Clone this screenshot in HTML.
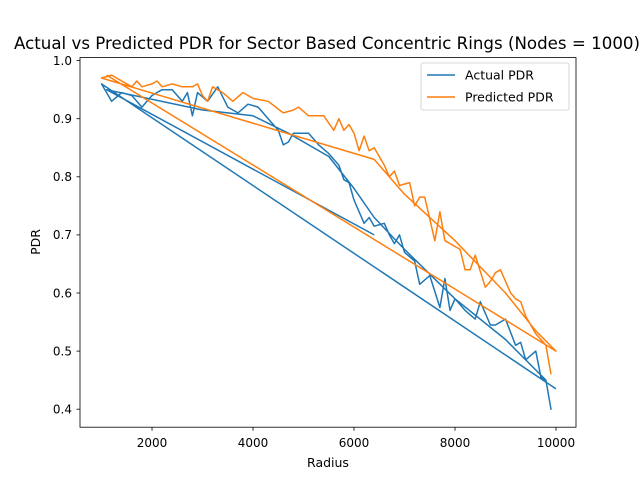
<!DOCTYPE html>
<html><head><meta charset="utf-8"><style>
body{margin:0;background:#fff}
svg{font-family:"DejaVu Sans","Liberation Sans",sans-serif}
</style></head><body>
<svg id="chart" width="640" height="480">
<rect width="640" height="480" fill="#fff"/>
<text x="327" y="49" font-size="16.5" text-anchor="middle" textLength="626" lengthAdjust="spacingAndGlyphs">Actual vs Predicted PDR for Sector Based Concentric Rings (Nodes = 1000)</text>
<g id="plot"></g>
<rect x="80" y="57.6" width="496" height="369.6" fill="none" stroke="#000" stroke-width="0.8"/>
<g id="xt"></g><g id="yt"></g>
<text x="328" y="467" font-size="12.5" text-anchor="middle">Radius</text>
<text transform="translate(40,242) rotate(-90)" font-size="12.5" text-anchor="middle">PDR</text>
<g>
<rect x="421" y="63" width="148" height="47" rx="2" fill="#fff" stroke="#ccc" stroke-width="0.8"/>
<line x1="427" y1="75" x2="455" y2="75" stroke="#1f77b4" stroke-width="1.5"/>
<text x="465" y="79.5" font-size="12.5">Actual PDR</text>
<line x1="427" y1="97" x2="455" y2="97" stroke="#ff7f0e" stroke-width="1.5"/>
<text x="465" y="101.5" font-size="12.5">Predicted PDR</text>
</g>
</svg>
<script>
const actualX=[6400,1100,3000,4000,4700,5500,6000,6400,7000,8000,9000,9800,9900,9800,9700,9600,9400,9300,9200,9000,8800,8700,8500,8400,8200,8000,7900,7800,7700,7500,7300,7200,7000,6900,6800,6700,6600,6400,6300,6200,6000,5900,5800,5700,5500,5300,5100,5000,4800,4700,4600,4500,4300,4100,3900,3700,3500,3300,3100,2900,2800,2700,2600,2400,2200,2000,1800,1600,1400,1200,1000,10000];
const actualY=[0.70,0.95,0.915,0.905,0.875,0.835,0.78,0.73,0.675,0.59,0.52,0.45,0.40,0.45,0.455,0.50,0.485,0.515,0.51,0.555,0.545,0.545,0.585,0.555,0.57,0.59,0.57,0.625,0.575,0.63,0.615,0.655,0.67,0.70,0.685,0.70,0.72,0.715,0.73,0.72,0.76,0.79,0.795,0.82,0.84,0.855,0.875,0.875,0.875,0.86,0.855,0.88,0.90,0.92,0.925,0.91,0.92,0.955,0.93,0.945,0.905,0.945,0.93,0.95,0.95,0.94,0.92,0.94,0.945,0.93,0.96,0.435];
const predX=[1100,10000,9600,9000,8000,7000,6600,6400,1000,1200,1400,1600,1700,1800,2000,2100,2200,2400,2600,2800,2900,3000,3100,3200,3400,3600,3800,4000,4300,4600,4800,4900,5100,5400,5600,5700,5800,5900,6000,6100,6200,6300,6400,6600,6700,6800,6900,7100,7200,7300,7400,7600,7700,7800,8000,8100,8200,8300,8400,8600,8700,8800,8900,9100,9200,9300,9400,9600,9800,9900];
const predY=[0.975,0.50,0.535,0.60,0.69,0.77,0.81,0.83,0.97,0.975,0.965,0.955,0.965,0.955,0.96,0.965,0.955,0.96,0.955,0.955,0.96,0.94,0.93,0.955,0.945,0.93,0.945,0.935,0.93,0.91,0.915,0.92,0.905,0.905,0.88,0.90,0.88,0.89,0.875,0.845,0.87,0.845,0.85,0.82,0.80,0.81,0.785,0.79,0.75,0.765,0.765,0.69,0.74,0.69,0.68,0.675,0.64,0.64,0.665,0.61,0.62,0.635,0.64,0.60,0.59,0.585,0.56,0.53,0.51,0.46];
const xTicks=[2000,4000,6000,8000,10000];
const yTicks=[0.4,0.5,0.6,0.7,0.8,0.9,1.0];
const X0=574,X1=10396,Y0=0.369,Y1=1.0052;
const sx=v=>80+(v-X0)/(X1-X0)*496;
const sy=v=>427.2-(v-Y0)/(Y1-Y0)*369.6;
const NS='http://www.w3.org/2000/svg';
const plot=document.getElementById('plot');
function series(xs,ys,color,name){
  const p=document.createElementNS(NS,'polyline');
  p.setAttribute('points',xs.map((x,i)=>sx(x).toFixed(1)+','+sy(ys[i]).toFixed(1)).join(' '));
  p.setAttribute('fill','none');p.setAttribute('stroke',color);p.setAttribute('stroke-width','1.5');
  p.setAttribute('stroke-linejoin','round');
  
  
  plot.appendChild(p);
}
series(actualX,actualY,'#1f77b4','actual-pdr-line');
series(predX,predY,'#ff7f0e','predicted-pdr-line');
const xt=document.getElementById('xt');
xTicks.forEach(v=>{
  const l=document.createElementNS(NS,'line');
  l.setAttribute('x1',sx(v));l.setAttribute('x2',sx(v));l.setAttribute('y1',427.2);l.setAttribute('y2',430.7);l.setAttribute('stroke','#000');l.setAttribute('stroke-width','0.8');
  
  
  xt.appendChild(l);
  const t=document.createElementNS(NS,'text');
  t.setAttribute('x',sx(v));t.setAttribute('y',447);t.setAttribute('font-size','12');t.setAttribute('text-anchor','middle');
  t.textContent=v;
  
  
  xt.appendChild(t);
});
const yt=document.getElementById('yt');
yTicks.forEach(v=>{
  const l=document.createElementNS(NS,'line');
  l.setAttribute('x1',76.5);l.setAttribute('x2',80);l.setAttribute('y1',sy(v));l.setAttribute('y2',sy(v));l.setAttribute('stroke','#000');l.setAttribute('stroke-width','0.8');
  
  
  yt.appendChild(l);
  const t=document.createElementNS(NS,'text');
  t.setAttribute('x',72);t.setAttribute('y',sy(v)+4.3);t.setAttribute('font-size','12');t.setAttribute('text-anchor','end');
  t.textContent=v.toFixed(1);
  
  
  yt.appendChild(t);
});
</script>
</body></html>
